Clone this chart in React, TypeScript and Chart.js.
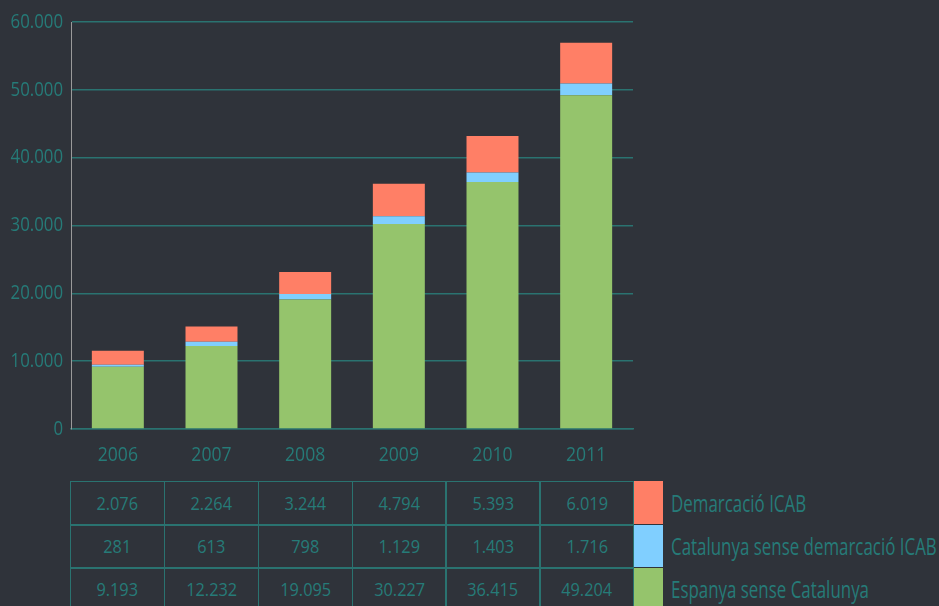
import React, { useEffect, useRef } from "react";
import { Chart, registerables } from "chart.js";

Chart.register(...registerables);

const years = ["2006", "2007", "2008", "2009", "2010", "2011"];
const demarcacioICAB = [2076, 2264, 3244, 4794, 5393, 6019];
const catalunyaSenseICAB = [281, 613, 798, 1129, 1403, 1716];
const espanyaSenseCatalunya = [9193, 12232, 19095, 30227, 36415, 49204];
const seriesNames = ["Demarcació ICAB", "Catalunya sense demarcació ICAB", "Espanya sense Catalunya"];

const BG = "#2f333a";
const TEAL = "#267b78";
const GRID = "#2a7370";
const ORANGE = "#ff7f66";
const BLUE = "#80cfff";
const GREEN = "#95c46c";
const FONT = '"Open Sans", "Noto Sans", sans-serif';

const fmt = (n: number) => String(n).replace(/\B(?=(\d{3})+(?!\d))/g, ".");

const condensedTicks = {
  id: "condensedTicks",
  afterDraw(chart: any) {
    const ctx = chart.ctx as CanvasRenderingContext2D;
    const ys = chart.scales.y;
    const xs = chart.scales.x;
    ctx.save();
    ctx.fillStyle = TEAL;
    ctx.font = `400 20px ${FONT}`;
    ctx.textBaseline = "middle";
    ys.ticks.forEach((t: any) => {
      const y = ys.getPixelForValue(t.value);
      const label = fmt(t.value);
      ctx.save();
      ctx.translate(63, y);
      ctx.scale(0.84, 1);
      ctx.textAlign = "right";
      ctx.fillText(label, 0, 0);
      ctx.restore();
    });
    xs.ticks.forEach((t: any, i: number) => {
      const x = xs.getPixelForValue(i);
      const label = chart.data.labels[i];
      ctx.save();
      ctx.translate(x, 455);
      ctx.scale(0.88, 1);
      ctx.textAlign = "center";
      ctx.fillText(label, 0, 0);
      ctx.restore();
    });
    ctx.restore();
  },
};

export default function App() {
  const ref = useRef<HTMLCanvasElement | null>(null);
  useEffect(() => {
    document.body.style.margin = "0";
    document.body.style.background = BG;
    const chart = new Chart(ref.current!, {
      type: "bar",
      data: {
        labels: years,
        datasets: [
          { label: seriesNames[2], data: espanyaSenseCatalunya, backgroundColor: GREEN, borderWidth: 0 },
          { label: seriesNames[1], data: catalunyaSenseICAB, backgroundColor: BLUE, borderWidth: 0 },
          { label: seriesNames[0], data: demarcacioICAB, backgroundColor: ORANGE, borderWidth: 0 },
        ],
      },
      options: {
        animation: false,
        responsive: false,
        maintainAspectRatio: false,
        layout: { padding: { left: 0, right: 306, top: 22, bottom: 0 } },
        datasets: { bar: { categoryPercentage: 1, barPercentage: 0.555 } },
        plugins: { legend: { display: false }, tooltip: { enabled: false } },
        scales: {
          x: {
            stacked: true,
            grid: { display: false, drawTicks: false },
            border: { display: true, color: GRID, width: 1.5 },
            ticks: { display: false },
            afterFit: (s: any) => { s.height = 41; },
          },
          y: {
            stacked: true,
            min: 0,
            max: 60000,
            grid: { color: GRID, lineWidth: 1.5, drawTicks: false },
            border: { display: true, color: "#9a9a9a", width: 1 },
            ticks: { stepSize: 10000, display: false },
            afterFit: (s: any) => { s.width = 71; },
          },
        },
      },
      plugins: [condensedTicks],
    });
    return () => chart.destroy();
  }, []);

  const rows = [
    { name: seriesNames[0], values: demarcacioICAB, color: ORANGE },
    { name: seriesNames[1], values: catalunyaSenseICAB, color: BLUE },
    { name: seriesNames[2], values: espanyaSenseCatalunya, color: GREEN },
  ];
  const colW = 563 / 6;
  const rowH = 43;

  return (
    <div style={{ position: "absolute", left: 0, top: 0, width: 939, height: 606, background: BG, overflow: "hidden", fontFamily: FONT, fontWeight: 400 }}>
      <canvas ref={ref} width={939} height={470} style={{ position: "absolute", left: 0, top: 0, width: 939, height: 470 }} />
      {rows.map((r, ri) => (
        <React.Fragment key={ri}>
          {r.values.map((v, ci) => (
            <div
              key={ci}
              style={{
                position: "absolute",
                left: 70 + ci * colW,
                top: 481 + ri * rowH,
                width: colW + 1.5,
                height: rowH + 1.5,
                boxSizing: "border-box",
                border: `1.5px solid ${GRID}`,
                color: TEAL,
                fontSize: 19,
                display: "flex",
                alignItems: "center",
                justifyContent: "center",
              }}
            >
              <span style={{ display: "inline-block", transform: "scaleX(0.86)" }}>{fmt(v)}</span>
            </div>
          ))}
          <div
            style={{
              position: "absolute",
              left: 634,
              top: 481 + ri * rowH + (ri === 0 ? 0 : 1),
              width: 29,
              height: rowH - (ri === 0 ? 0 : 1),
              background: r.color,
            }}
          />
          <div
            style={{
              position: "absolute",
              left: 671,
              top: 481 + ri * rowH,
              height: rowH,
              display: "flex",
              alignItems: "center",
              color: TEAL,
              fontSize: 23,
              whiteSpace: "nowrap",
              transform: "scaleX(0.735)",
              transformOrigin: "left center",
            }}
          >
            {r.name}
          </div>
        </React.Fragment>
      ))}
    </div>
  );
}
